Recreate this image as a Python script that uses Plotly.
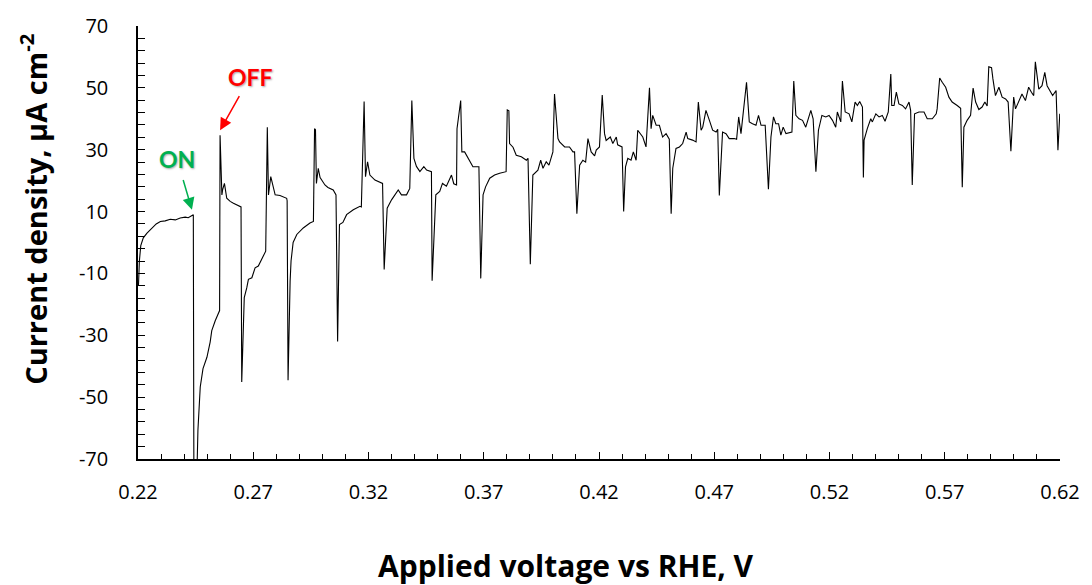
import plotly.graph_objects as go

voltage = [
    0.2202, 0.2206, 0.2212, 0.2223, 0.2239, 0.2261, 0.2279, 0.2297, 0.2318, 0.2340,
    0.2362, 0.2383, 0.2405, 0.2418, 0.2434, 0.2440, 0.2443, 0.2454, 0.2460, 0.2470,
    0.2482, 0.2499, 0.2513, 0.2520, 0.2535, 0.2549, 0.2554, 0.2556, 0.2564, 0.2567,
    0.2575, 0.2585, 0.2600, 0.2614, 0.2643, 0.2647, 0.2650, 0.2661, 0.2672, 0.2679,
    0.2694, 0.2708, 0.2722, 0.2744, 0.2754, 0.2761, 0.2766, 0.2776, 0.2784, 0.2795,
    0.2816, 0.2845, 0.2847, 0.2851, 0.2860, 0.2864, 0.2873, 0.2889, 0.2917, 0.2946,
    0.2961, 0.2966, 0.2970, 0.2974, 0.2982, 0.2990, 0.3011, 0.3024, 0.3047, 0.3059,
    0.3066, 0.3074, 0.3089, 0.3105, 0.3134, 0.3163, 0.3169, 0.3181, 0.3187, 0.3196,
    0.3206, 0.3228, 0.3261, 0.3268, 0.3281, 0.3300, 0.3329, 0.3343, 0.3365, 0.3379,
    0.3388, 0.3397, 0.3408, 0.3423, 0.3440, 0.3452, 0.3473, 0.3476, 0.3492, 0.3509,
    0.3521, 0.3538, 0.3560, 0.3570, 0.3582, 0.3584, 0.3600, 0.3605, 0.3617, 0.3639,
    0.3653, 0.3679, 0.3687, 0.3697, 0.3708, 0.3726, 0.3747, 0.3769, 0.3791, 0.3797,
    0.3802, 0.3809, 0.3812, 0.3827, 0.3841, 0.3863, 0.3885, 0.3892, 0.3902, 0.3913,
    0.3935, 0.3947, 0.3957, 0.3971, 0.3983, 0.4000, 0.4007, 0.4022, 0.4029, 0.4051,
    0.4072, 0.4087, 0.4094, 0.4104, 0.4116, 0.4130, 0.4142, 0.4152, 0.4166, 0.4181,
    0.4188, 0.4202, 0.4214, 0.4224, 0.4231, 0.4249, 0.4260, 0.4275, 0.4281, 0.4300,
    0.4307, 0.4315, 0.4325, 0.4339, 0.4349, 0.4361, 0.4368, 0.4390, 0.4404, 0.4419,
    0.4426, 0.4433, 0.4448, 0.4462, 0.4476, 0.4491, 0.4505, 0.4513, 0.4520, 0.4534,
    0.4549, 0.4563, 0.4578, 0.4585, 0.4606, 0.4621, 0.4631, 0.4643, 0.4650, 0.4664,
    0.4679, 0.4693, 0.4708, 0.4715, 0.4722, 0.4736, 0.4751, 0.4765, 0.4787, 0.4797,
    0.4806, 0.4816, 0.4840, 0.4852, 0.4866, 0.4881, 0.4892, 0.4903, 0.4921, 0.4935,
    0.4946, 0.4957, 0.4967, 0.4979, 0.4989, 0.4999, 0.5011, 0.5037, 0.5045, 0.5054,
    0.5068, 0.5083, 0.5097, 0.5119, 0.5129, 0.5141, 0.5152, 0.5167, 0.5184, 0.5198,
    0.5213, 0.5227, 0.5234, 0.5249, 0.5256, 0.5268, 0.5285, 0.5297, 0.5311, 0.5321,
    0.5331, 0.5343, 0.5347, 0.5350, 0.5364, 0.5379, 0.5386, 0.5401, 0.5415, 0.5429,
    0.5441, 0.5455, 0.5466, 0.5470, 0.5480, 0.5490, 0.5501, 0.5516, 0.5530, 0.5545,
    0.5552, 0.5559, 0.5569, 0.5588, 0.5610, 0.5624, 0.5646, 0.5663, 0.5667, 0.5678,
    0.5689, 0.5704, 0.5718, 0.5732, 0.5754, 0.5769, 0.5776, 0.5783, 0.5797, 0.5812,
    0.5823, 0.5834, 0.5848, 0.5862, 0.5874, 0.5884, 0.5891, 0.5903, 0.5909, 0.5920,
    0.5935, 0.5949, 0.5964, 0.5975, 0.5987, 0.5999, 0.6007, 0.6024, 0.6035, 0.6050,
    0.6064, 0.6076, 0.6086, 0.6093, 0.6108, 0.6122, 0.6134, 0.6144, 0.6158, 0.6168,
    0.6183, 0.6191, 0.6199,
]

current = [
    -14, -6, -1, 1.5, 3, 4.8, 6, 6.8, 7, 7.5,
    7.3, 7.9, 8.2, 8.0, 8.8, 9, -95, -80, -60.6, -46.7,
    -40.8, -37.1, -32.2, -28.5, -25.3, -22.6, -22, 34.7, 15.4, 17,
    19.1, 14.3, 13.3, 12.7, 11.7, 11.5, -45.1, -17.8, -14.6, -11.9,
    -11.4, -8.2, -7.6, -3.9, -2.8, 37.3, 15.4, 21.3, 19, 15.4,
    15.2, 14.3, 13.5, -44.5, -12.4, -6, 0, 2.6, 4.7, 6.3,
    6.8, 36.8, 36.5, 19.1, 24, 21, 18.6, 17.8, 17, 15.4,
    -32, 5.8, 6.5, 9, 10.6, 11.7, 11.5, 45.6, 21.3, 26.1,
    21.8, 20.2, 19.1, -8.7, 11.1, 13.8, 17, 15.4, 15.4, 17.5,
    45.9, 27.2, 24.6, 22.9, 24.5, 23.4, 22.9, -12.4, 15.4, 16.5,
    19.1, 18.2, 21.8, 19, 18.6, 36.8, 45.9, 29.3, 29.3, 26.1,
    24.5, 24.5, -11.6, 15.4, 18, 20.8, 21.8, 22.4, 22.9, 22.9,
    42.9, 42.6, 32, 30.8, 28.2, 27.7, 26.6, 27.2, -7, 21.8,
    23.4, 26.6, 24, 26.1, 25, 29.3, 48, 33.6, 32.5, 30.9,
    30.9, 29.3, 29.3, 9.3, 25, 26.6, 26, 33.6, 29.3, 28,
    29.9, 30.9, 47.7, 35.2, 33, 34.1, 32, 34.1, 31.6, 30.9,
    10, 24.5, 27.2, 26.6, 29.3, 26.6, 36.3, 34.1, 30.9, 50,
    36.8, 41.1, 37.9, 37.9, 34.1, 35.2, 33.4, 9.3, 24, 30.4,
    30.9, 32, 35.7, 33.6, 33.1, 32.5, 45.4, 36.3, 37.3, 42.7,
    39.5, 36.3, 35.7, 36.6, 15.2, 35.7, 35.2, 33.6, 33.6, 33.4,
    40.6, 35.2, 51.8, 39, 38.4, 37.9, 41.1, 37.9, 37.9, 17.2,
    34.1, 40.6, 38.4, 38.4, 34.7, 37.3, 35.2, 35.7, 52.2, 41.1,
    40, 39.5, 37.3, 42.7, 40, 22.9, 36.3, 41.1, 40.6, 41.1,
    39.5, 37.3, 42.2, 39, 52.2, 42.2, 41.6, 39, 45.4, 44.3,
    45.6, 43.8, 21, 33.1, 36.8, 40, 39, 41.6, 40.6, 41.1,
    39.2, 42.2, 54.5, 44.3, 44.3, 48.6, 44.8, 44.3, 43.2, 45.4,
    42.7, 18.6, 41.6, 42.2, 42.2, 40, 40, 41.6, 43.2, 53.2,
    51.8, 50.2, 47, 45.4, 44.3, 43.4, 17.9, 37.3, 39.5, 41.1,
    49.9, 45.4, 43, 43.8, 45.4, 44.1, 56.8, 56.5, 52.9, 47.5,
    50.2, 47, 46.4, 45.4, 29.5, 47, 43.2, 46.4, 48, 45.9,
    50.2, 48.6, 47.5, 58.4, 49.6, 50.7, 55, 50.7, 48.6, 47.5,
    49.1, 29.8, 41.6,
]

x_tickvals = [0.22, 0.27, 0.32, 0.37, 0.42, 0.47, 0.52, 0.57, 0.62]
x_ticktext = ["0.22", "0.27", "0.32", "0.37", "0.42", "0.47", "0.52", "0.57", "0.62"]
y_tickvals = [-70, -50, -30, -10, 10, 30, 50, 70]
y_ticktext = ["-70", "-50", "-30", "-10", "10", "30", "50", "70"]
x_range = [0.22, 0.62]
y_range = [-70, 70]
x_title = "Applied voltage vs RHE, V"
y_title = "Current density, µA cm<sup>-2</sup>"
on_label = "ON"
off_label = "OFF"

FONT = "'Open Sans', sans-serif"
LABEL_FONT = "Lato, 'Open Sans', sans-serif"

fig = go.Figure()
fig.add_trace(go.Scatter(
    x=voltage, y=current, mode="lines",
    line=dict(color="black", width=1.1),
    showlegend=False, hoverinfo="skip",
))

fig.update_layout(
    width=1092, height=585,
    margin=dict(l=138, r=31, t=23, b=126),
    paper_bgcolor="white", plot_bgcolor="white",
    font=dict(family=FONT, color="black"),
    xaxis=dict(
        range=x_range, tickmode="array", tickvals=x_tickvals, ticktext=x_ticktext,
        showgrid=False, zeroline=False,
        showline=True, linecolor="black", linewidth=1.5,
        ticks="inside", ticklen=7, tickwidth=1.3, tickcolor="black",
        minor=dict(tick0=0.22, dtick=0.01, ticks="inside", ticklen=5,
                   tickwidth=1.3, tickcolor="black", showgrid=False),
        tickfont=dict(size=20, family=FONT, color="black"),
        ticklabelstandoff=14,
    ),
    yaxis=dict(
        range=y_range, tickmode="array", tickvals=y_tickvals, ticktext=y_ticktext,
        showgrid=False, zeroline=False,
        showline=True, linecolor="black", linewidth=1.5,
        ticks="inside", ticklen=7, tickwidth=1.3, tickcolor="black",
        minor=dict(tick0=-70, dtick=4, ticks="inside", ticklen=7,
                   tickwidth=1.3, tickcolor="black", showgrid=False),
        tickfont=dict(size=20, family=FONT, color="black"),
        ticklabelstandoff=24,
    ),
)

fig.add_annotation(
    text=f"<b>{x_title}</b>", xref="paper", yref="paper",
    x=(566 - 138) / 923, y=-(566 - 459) / 436,
    xanchor="center", yanchor="middle", showarrow=False,
    font=dict(size=30, family=FONT, color="black"),
)
fig.add_annotation(
    text=f"<b>{y_title}</b>", xref="paper", yref="paper",
    x=-(138 - 33) / 923, y=(459 - 208) / 436,
    xanchor="center", yanchor="middle", showarrow=False, textangle=-90,
    font=dict(size=29, family=FONT, color="black"),
)

# ON label with arrow
fig.add_annotation(
    x=0.2434, y=10.6, ax=-15, ay=-51, xref="x", yref="y",
    text=f"<b>{on_label}</b>", showarrow=True, arrowhead=2, arrowsize=1.6,
    arrowwidth=1.5, arrowcolor="#00B050", startstandoff=6,
    font=dict(size=23, family=LABEL_FONT, color="#00B050",
              shadow="1px 1px 2px rgba(0,0,0,0.35)"),
)
# OFF label with arrow
fig.add_annotation(
    x=0.2556, y=36.3, ax=30, ay=-53, xref="x", yref="y",
    text=f"<b>{off_label}</b>", showarrow=True, arrowhead=2, arrowsize=1.6,
    arrowwidth=1.5, arrowcolor="#FF0000", startstandoff=4,
    font=dict(size=23, family=LABEL_FONT, color="#FF0000",
              shadow="1px 1px 2px rgba(0,0,0,0.35)"),
)

fig.write_html("out.html", config={"displayModeBar": False},
               post_script="document.body.style.margin='0px';")
